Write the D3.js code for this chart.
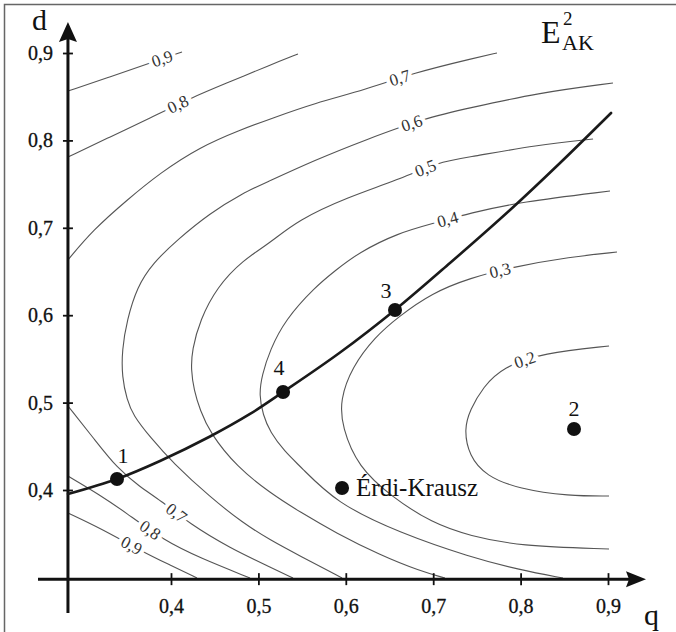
<!DOCTYPE html>
<html><head><meta charset="utf-8">
<script src="https://cdn.jsdelivr.net/npm/d3@7"></script>
<style>
body{margin:0;background:#fff}
svg{display:block}
text{font-family:"Liberation Serif","Times New Roman",serif}
</style>
</head><body>
<svg id="c" width="676" height="632"></svg>
<script>
// ---------------- DATA ----------------
const xTicks = [0.4, 0.5, 0.6, 0.7, 0.8, 0.9];
const yTicks = [0.4, 0.5, 0.6, 0.7, 0.8, 0.9];

// contour lines [q, d]
const c09upper = [[0.2821,0.8565],[0.3302,0.8726],[0.3760,0.8886],[0.4126,0.9012]];
const c08upper = [[0.2821,0.7810],[0.3302,0.8039],[0.3760,0.8256],[0.4252,0.8497],[0.4641,0.8657],[0.5133,0.8863],[0.5453,0.8989]];
const c07upper = [[0.2821,0.6632],[0.3108,0.6975],[0.3497,0.7318],[0.3874,0.7627],[0.4332,0.7925],[0.4789,0.8119],[0.5133,0.8245],[0.5648,0.8428],[0.6220,0.8577],[0.6769,0.8771],[0.7478,0.8943],[0.7730,0.9000]];
const c06 = [[0.9057,0.8657],[0.8188,0.8542],[0.7421,0.8371],[0.6906,0.8256],[0.6220,0.8005],[0.5648,0.7776],[0.5076,0.7513],[0.4824,0.7398],[0.4446,0.7169],[0.4069,0.6861],[0.3794,0.6597],[0.3611,0.6323],[0.3497,0.5945],[0.3439,0.5602],[0.3439,0.5293],[0.3497,0.5030],[0.3565,0.4858],[0.3760,0.4606],[0.4023,0.4309],[0.4446,0.3920],[0.4824,0.3622],[0.5133,0.3428],[0.5476,0.3245],[0.5957,0.2993]];
const c05 = [[0.8829,0.8016],[0.8188,0.7947],[0.7421,0.7810],[0.7055,0.7753],[0.6597,0.7547],[0.6025,0.7352],[0.5453,0.7089],[0.5133,0.6826],[0.4824,0.6632],[0.4526,0.6323],[0.4332,0.5945],[0.4240,0.5602],[0.4229,0.5373],[0.4263,0.5144],[0.4332,0.4915],[0.4446,0.4652],[0.4755,0.4263],[0.5133,0.3966],[0.5476,0.3748],[0.5888,0.3508],[0.6391,0.3256],[0.6849,0.3073],[0.7135,0.2993]];
const c04 = [[0.9023,0.7421],[0.7993,0.7295],[0.7421,0.7169],[0.7021,0.7055],[0.6597,0.6941],[0.6140,0.6712],[0.5888,0.6517],[0.5648,0.6323],[0.5304,0.5945],[0.5133,0.5602],[0.5041,0.5316],[0.5007,0.5087],[0.5053,0.4858],[0.5133,0.4664],[0.5304,0.4435],[0.5476,0.4275],[0.5888,0.3851],[0.6620,0.3508],[0.7421,0.3233],[0.7993,0.3085],[0.8485,0.2993]];
const c03 = [[0.9103,0.6723],[0.8565,0.6666],[0.7913,0.6552],[0.7421,0.6426],[0.6986,0.6254],[0.6597,0.5979],[0.6334,0.5751],[0.6071,0.5407],[0.5934,0.5030],[0.5957,0.4721],[0.6140,0.4263],[0.6529,0.3920],[0.6986,0.3622],[0.7421,0.3474],[0.7982,0.3359],[0.9012,0.3325]];
const c02 = [[0.9012,0.5648],[0.8256,0.5568],[0.7799,0.5407],[0.7570,0.5179],[0.7421,0.4915],[0.7353,0.4698],[0.7410,0.4389],[0.7604,0.4160],[0.7982,0.4011],[0.8554,0.3931],[0.9012,0.3931]];
const c07lower = [[0.2821,0.4961],[0.3130,0.4572],[0.3382,0.4252],[0.3645,0.4034],[0.3874,0.3886],[0.4217,0.3611],[0.4675,0.3336],[0.5133,0.3119],[0.5396,0.2993]];
const c08lower = [[0.2821,0.4160],[0.3188,0.3943],[0.3474,0.3748],[0.3908,0.3428],[0.4332,0.3222],[0.4904,0.2993]];
const c09lower = [[0.2821,0.3737],[0.3188,0.3565],[0.3680,0.3291],[0.3989,0.3142],[0.4297,0.2993]];

// contour labels: text and approximate [q,d]
const labelText = ["0,9","0,8","0,7","0,6","0,5","0,4","0,3","0,2","0,7","0,8","0,9"];
const labelQ    = [0.3897,0.4080,0.6620,0.6758,0.6918,0.7169,0.7764,0.8039,0.4057,0.3760,0.3554];
const labelD    = [0.8943,0.8417,0.8703,0.8176,0.7661,0.7089,0.6517,0.5510,0.3725,0.3542,0.3371];

// thick curve
const curvePts = [[0.2821,0.3954],[0.3382,0.4126],[0.3874,0.4332],[0.4446,0.4612],[0.4904,0.4870],[0.5282,0.5121],[0.5934,0.5573],[0.6563,0.6060],[0.7192,0.6597],[0.7879,0.7204],[0.8451,0.7742],[0.9035,0.8314]];

// marked points
const pointNames = ["1","2","3","4","Érdi-Krausz"];
const pointQ = [0.3382,0.8611,0.6563,0.5282,0.5957];
const pointD = [0.4126,0.4698,0.6060,0.5121,0.4023];

// axis origin (data units)
const q0 = 0.2821, d0 = 0.298;

// ---------------- DRAW ----------------
const SERIF = "'Liberation Serif','Times New Roman',serif";
const svg = d3.select("#c");
svg.append("rect").attr("width",676).attr("height",632).attr("fill","#fff");
svg.append("rect").attr("x",4.5).attr("y",4.5).attr("width",800).attr("height",800)
  .attr("fill","none").attr("stroke","#666").attr("stroke-width",1.5);

const x = d3.scaleLinear().domain([0.4,0.9]).range([171,608]);
const y = d3.scaleLinear().domain([0.4,0.9]).range([490,53]);
const fmt = v => v.toFixed(1).replace(".", ",");

const line = d3.line().x(p=>x(p[0])).y(p=>y(p[1])).curve(d3.curveBasis);

const contours = [c09upper,c08upper,c07upper,c06,c05,c04,c03,c02,c07lower,c08lower,c09lower];
const labelContour = [0,1,2,3,4,5,6,7,8,9,10];

const gC = svg.append("g");
const nodes = contours.map(c => gC.append("path").attr("d", line(c))
  .attr("fill","none").attr("stroke","#555").attr("stroke-width",1.1).node());

labelText.forEach((t,i) => {
  const node = nodes[labelContour[i]];
  const L = node.getTotalLength();
  const tx = x(labelQ[i]), ty = y(labelD[i]);
  let best = 0, bd = Infinity;
  for (let s = 0; s <= L; s += 0.5) {
    const p = node.getPointAtLength(s);
    const dd = (p.x-tx)**2 + (p.y-ty)**2;
    if (dd < bd) { bd = dd; best = s; }
  }
  const p = node.getPointAtLength(best);
  const a = node.getPointAtLength(Math.max(0,best-8));
  const b = node.getPointAtLength(Math.min(L,best+8));
  let ang = Math.atan2(b.y-a.y, b.x-a.x)*180/Math.PI;
  if (ang > 90) ang -= 180;
  if (ang < -90) ang += 180;
  gC.append("text")
    .attr("transform", `translate(${p.x},${p.y}) rotate(${ang})`)
    .attr("text-anchor","middle").attr("dy","0.33em")
    .style("font-family",SERIF).style("font-size","17px")
    .attr("fill","#333")
    .attr("stroke","#fff").attr("stroke-width",8).attr("paint-order","stroke")
    .text(t);
});

// axes
const axisY = y(d0), axisX = x(q0);
const gx = svg.append("g").attr("transform",`translate(0,${axisY})`)
  .call(d3.axisBottom(x).tickValues(xTicks).tickFormat(fmt).tickSizeInner(6).tickSizeOuter(0).tickPadding(14));
gx.select(".domain").remove();
gx.selectAll(".tick line").attr("y1",-6).attr("y2",6).attr("stroke","#111").attr("stroke-width",1.8);
gx.selectAll(".tick text").style("font-size","20px").style("font-family",SERIF)
  .attr("fill","#111").attr("stroke","#111").attr("stroke-width",0.3);

const gy = svg.append("g").attr("transform",`translate(${axisX},0)`)
  .call(d3.axisLeft(y).tickValues(yTicks).tickFormat(fmt).tickSizeInner(5).tickSizeOuter(0).tickPadding(10));
gy.select(".domain").remove();
gy.selectAll(".tick line").attr("x1",5).attr("x2",-5).attr("stroke","#111").attr("stroke-width",1.8);
gy.selectAll(".tick text").style("font-size","20px").style("font-family",SERIF)
  .attr("fill","#111").attr("stroke","#111").attr("stroke-width",0.3);

// axis lines with arrows
svg.append("line").attr("x1",38).attr("x2",630).attr("y1",axisY).attr("y2",axisY)
  .attr("stroke","#111").attr("stroke-width",3);
svg.append("path").attr("d",`M646,${axisY} L626,${axisY-8} L629,${axisY} L626,${axisY+8} Z`).attr("fill","#111");
svg.append("line").attr("x1",axisX).attr("x2",axisX).attr("y1",613).attr("y2",38)
  .attr("stroke","#111").attr("stroke-width",3);
svg.append("path").attr("d",`M${axisX},22 L${axisX-9},42 L${axisX},39 L${axisX+9},42 Z`).attr("fill","#111");

svg.append("text").attr("x",32).attr("y",30).style("font-size","30px").attr("fill","#111").text("d");
svg.append("text").attr("x",644).attr("y",625).style("font-size","30px").attr("fill","#111").text("q");

// title
svg.append("text").attr("x",541).attr("y",43).style("font-size","32px").attr("fill","#111").text("E");
svg.append("text").attr("x",563).attr("y",25).style("font-size","19px").attr("fill","#111").text("2");
svg.append("text").attr("x",562).attr("y",50).style("font-size","22px").attr("fill","#111").text("AK");

// thick curve
svg.append("path").attr("d", d3.line().x(p=>x(p[0])).y(p=>y(p[1])).curve(d3.curveCatmullRom.alpha(0.5))(curvePts))
  .attr("fill","none").attr("stroke","#1a1a1a").attr("stroke-width",2.6).attr("stroke-linecap","round");

// points
const offsets = [[6,-16],[0,-13],[-9,-12],[-4,-17],[14,8]];
pointNames.forEach((n,i) => {
  const px = x(pointQ[i]), py = y(pointD[i]);
  svg.append("circle").attr("cx",px).attr("cy",py).attr("r",7).attr("fill","#111");
  const isText = n.length > 1;
  svg.append("text").attr("x",px+offsets[i][0]).attr("y",py+offsets[i][1])
    .attr("text-anchor", isText ? "start" : "middle")
    .style("font-size", isText ? "25px" : "22px").attr("fill","#111").text(n);
});
</script>
</body></html>
